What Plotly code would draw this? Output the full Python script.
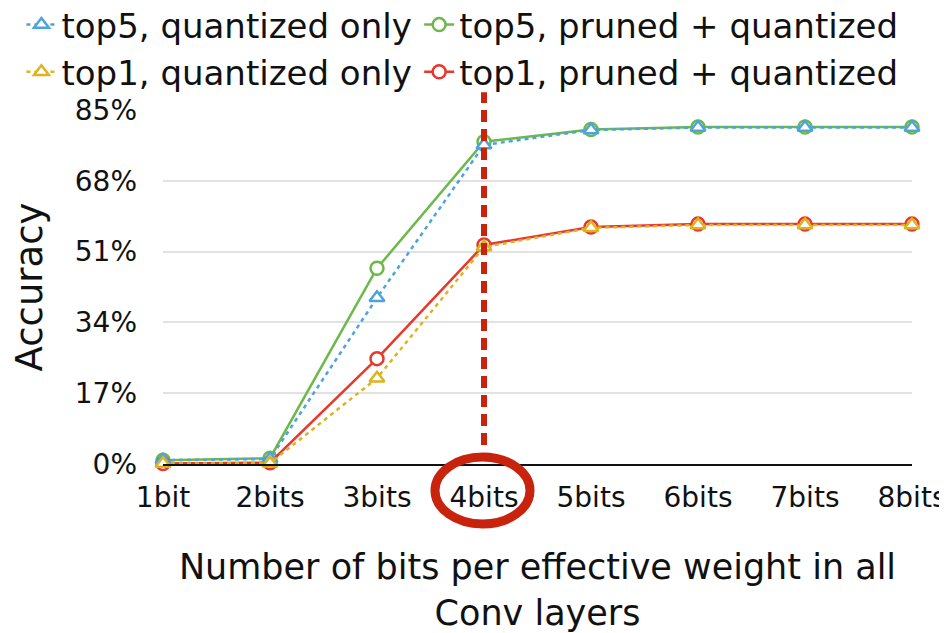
import plotly.graph_objects as go

# Data
bits = ["1bit", "2bits", "3bits", "4bits", "5bits", "6bits", "7bits", "8bits"]
top5_quantized = [0.9, 1.2, 39.9, 76.6, 80.2, 80.8, 80.8, 80.8]
top5_pruned = [0.9, 1.4, 47.0, 77.4, 80.3, 80.9, 80.9, 80.9]
top1_quantized = [0.1, 0.2, 20.6, 52.1, 56.7, 57.4, 57.4, 57.4]
top1_pruned = [0.1, 0.3, 25.3, 52.6, 56.9, 57.6, 57.6, 57.6]
y_ticks = [0, 17, 34, 51, 68, 85]
y_labels = [f"{v}%" for v in y_ticks]
highlight = "4bits"

FONT = "DejaVu Sans"
GREEN = "#6db84b"
BLUE = "#4ea3df"
RED = "#e8372b"
YELLOW = "#dfb31f"
MARK = "#c8230d"

x = list(range(len(bits)))

fig = go.Figure()


def add_series(y, name, color, symbol, dash, legend, rank):
    fig.add_trace(go.Scatter(
        x=x, y=y, name=name, mode="lines+markers",
        line=dict(color=color, width=2.5, dash=dash),
        marker=dict(symbol=symbol, size=13, color="white",
                    line=dict(color=color, width=2.5)),
        cliponaxis=False, legend=legend, legendrank=rank,
    ))


# pruned drawn first so the triangles sit on top
add_series(top5_pruned, "top5, pruned + quantized", GREEN, "circle", "solid", "legend2", 1)
add_series(top1_pruned, "top1, pruned + quantized", RED, "circle", "solid", "legend2", 2)
add_series(top5_quantized, "top5, quantized only", BLUE, "triangle-up", "4px,4px", "legend", 1)
add_series(top1_quantized, "top1, quantized only", YELLOW, "triangle-up", "4px,4px", "legend", 2)

hx = bits.index(highlight) / (len(bits) - 1)

# dotted marker line at 4 bits
fig.add_shape(type="line", xref="paper", yref="paper",
              x0=hx, x1=hx, y0=0.054, y1=1.05,
              line=dict(color=MARK, width=6, dash="12px,7px"))
# ring around the 4bits tick label
fig.add_shape(type="circle", xref="paper", yref="paper",
              xsizemode="pixel", ysizemode="pixel", xanchor=hx, yanchor=0,
              x0=-49, x1=46, y0=-60, y1=7,
              line=dict(color=MARK, width=9))

# two legends = two columns; wide entries force one entry per row
legend_style = dict(
    orientation="h", y=1.322, xanchor="left", yanchor="top", itemwidth=30,
    font=dict(size=34, family=FONT), bgcolor="rgba(0,0,0,0)",
)

# page body has an 8px margin, so the figure is 8px smaller than the window
fig.update_layout(
    width=939, height=625,
    margin=dict(l=155, r=35, t=102, b=169, autoexpand=False),
    paper_bgcolor="white", plot_bgcolor="white",
    font=dict(family=FONT, color="#111111"),
    showlegend=True,
    legend=dict(x=-0.189, entrywidth=470, **legend_style),
    legend2=dict(x=0.342, entrywidth=480, **legend_style),
    xaxis=dict(
        range=[0, len(bits) - 1], tickvals=x, ticktext=bits,
        showgrid=False, zeroline=False, automargin=False,
        showline=True, linecolor="#111111", linewidth=1.5,
        tickfont=dict(size=28, family=FONT), ticklabelstandoff=8,
        title=dict(text="Number of bits per effective weight in all<br>Conv layers",
                   font=dict(size=35, family=FONT), standoff=42),
    ),
    yaxis=dict(
        range=[0, 85], tickvals=y_ticks, ticktext=y_labels,
        showgrid=True, gridcolor="#e2e2e2", gridwidth=2,
        zeroline=False, showline=False, automargin=False,
        tickfont=dict(size=28, family=FONT), ticklabelstandoff=25,
        title=dict(text="Accuracy", font=dict(size=37, family=FONT), standoff=21),
    ),
)

fig.write_html("out.html")
